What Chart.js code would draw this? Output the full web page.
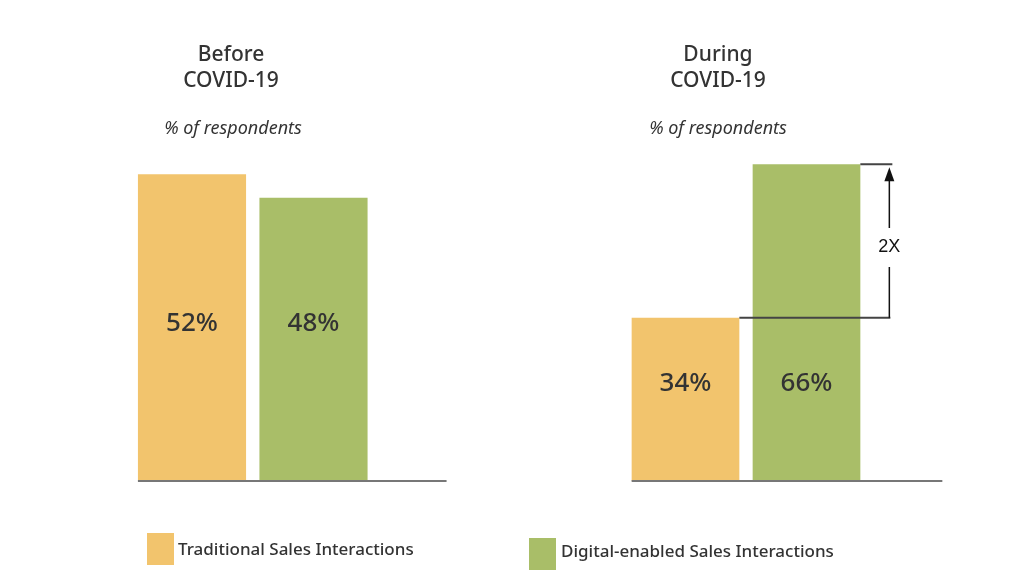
<!DOCTYPE html>
<html>
<head>
<meta charset="utf-8">
<script src="https://cdn.jsdelivr.net/npm/chart.js@4.4.0/dist/chart.umd.min.js"></script>
<style>
  body { margin: 0; background: #fff; font-family: "Noto Sans", sans-serif; color: #333; }
  #wrap { position: relative; width: 1024px; height: 575px; overflow: hidden; }
  canvas { position: absolute; left: 0; top: 0; }
  .title { position: absolute; width: 200px; text-align: center; font-size: 21px; line-height: 26px; font-weight: 500; }
  .sub { position: absolute; width: 200px; text-align: center; font-size: 18px; font-style: italic; }
  .key { position: absolute; width: 27px; height: 32px; }
  .keytxt { position: absolute; font-size: 17px; white-space: nowrap; font-weight: 500; }
</style>
</head>
<body>
<div id="wrap">
  <canvas id="before" width="1024" height="575"></canvas>
  <canvas id="during" width="1024" height="575"></canvas>

  <div class="title" style="left:131px;top:40px">Before<br>COVID-19</div>
  <div class="sub" style="left:133px;top:115px">% of respondents</div>
  <div class="title" style="left:618px;top:40px">During<br>COVID-19</div>
  <div class="sub" style="left:618px;top:115px">% of respondents</div>

  <div class="key" style="left:147px;top:533px;background:#F2C46D"></div>
  <div class="keytxt" id="key0" style="left:178px;top:537px"></div>
  <div class="key" style="left:529px;top:538px;background:#A9BE68"></div>
  <div class="keytxt" id="key1" style="left:561px;top:539px"></div>
</div>
<script>
const categories = ['Traditional Sales Interactions', 'Digital-enabled Sales Interactions'];
const beforeValues = [52, 48];
const duringValues = [34, 66];
const colors = ['#F2C46D', '#A9BE68'];

document.getElementById('key0').textContent = categories[0];
document.getElementById('key1').textContent = categories[1];

// baseline, % labels inside bars and the "2X" bracket
const barText = {
  id: 'barText',
  afterDatasetsDraw(chart, args, opts) {
    const ctx = chart.ctx;
    const bars = chart.getDatasetMeta(0).data;
    const y = chart.scales.y;
    const vals = chart.data.datasets[0].data;
    const base = y.getPixelForValue(0);
    const right0 = bars[0].x + bars[0].width / 2;
    const right1 = bars[1].x + bars[1].width / 2;

    ctx.save();
    ctx.strokeStyle = '#777';
    ctx.lineWidth = 2;
    ctx.beginPath();
    ctx.moveTo(bars[0].x - bars[0].width / 2, base);
    ctx.lineTo(right1 + opts.extend, base);
    ctx.stroke();

    ctx.fillStyle = '#333';
    ctx.font = '500 26px "Noto Sans"';
    ctx.textAlign = 'center';
    ctx.textBaseline = 'middle';
    vals.forEach((v, i) => {
      ctx.fillText(v + '%', bars[i].x, y.getPixelForValue(opts.labelAt));
    });

    if (opts.bracket) {
      const y1 = y.getPixelForValue(vals[0]);
      const y2 = y.getPixelForValue(vals[1]);
      const ax = right1 + 29;
      const mid = (y1 + y2) / 2 + 6;
      ctx.strokeStyle = '#444';
      ctx.lineWidth = 2;
      ctx.beginPath();
      ctx.moveTo(right0, y1); ctx.lineTo(ax + 1, y1);
      ctx.moveTo(right1, y2); ctx.lineTo(ax + 3, y2);
      ctx.stroke();
      ctx.lineWidth = 1.5;
      ctx.strokeStyle = '#111';
      ctx.beginPath();
      ctx.moveTo(ax, y1); ctx.lineTo(ax, mid + 20);
      ctx.moveTo(ax, mid - 19); ctx.lineTo(ax, y2 + 12);
      ctx.stroke();
      ctx.fillStyle = '#111';
      ctx.beginPath();
      ctx.moveTo(ax, y2 + 3);
      ctx.lineTo(ax - 5, y2 + 17);
      ctx.lineTo(ax + 5, y2 + 17);
      ctx.closePath();
      ctx.fill();
      ctx.font = '18px "Liberation Sans"';
      ctx.fillText('2X', ax, mid);
    }
    ctx.restore();
  }
};

function makeChart(id, values, padding, yMax, textOpts) {
  return new Chart(document.getElementById(id), {
    type: 'bar',
    data: {
      labels: categories,
      datasets: [{
        data: values,
        backgroundColor: colors,
        barPercentage: 0.89,
        categoryPercentage: 1
      }]
    },
    options: {
      responsive: false,
      animation: false,
      layout: { padding: padding },
      plugins: {
        legend: { display: false },
        tooltip: { enabled: false },
        barText: textOpts
      },
      scales: {
        x: { display: false },
        y: { display: false, min: 0, max: yMax }
      }
    },
    plugins: [barText]
  });
}

makeChart('before', beforeValues,
  { left: 131.25, right: 649.75, top: 127, bottom: 94 }, 60,
  { extend: 79, labelAt: 26.7, bracket: false });

makeChart('during', duringValues,
  { left: 625, right: 157, top: 145, bottom: 94 }, 70,
  { extend: 82, labelAt: 20.3, bracket: true });
</script>
</body>
</html>
